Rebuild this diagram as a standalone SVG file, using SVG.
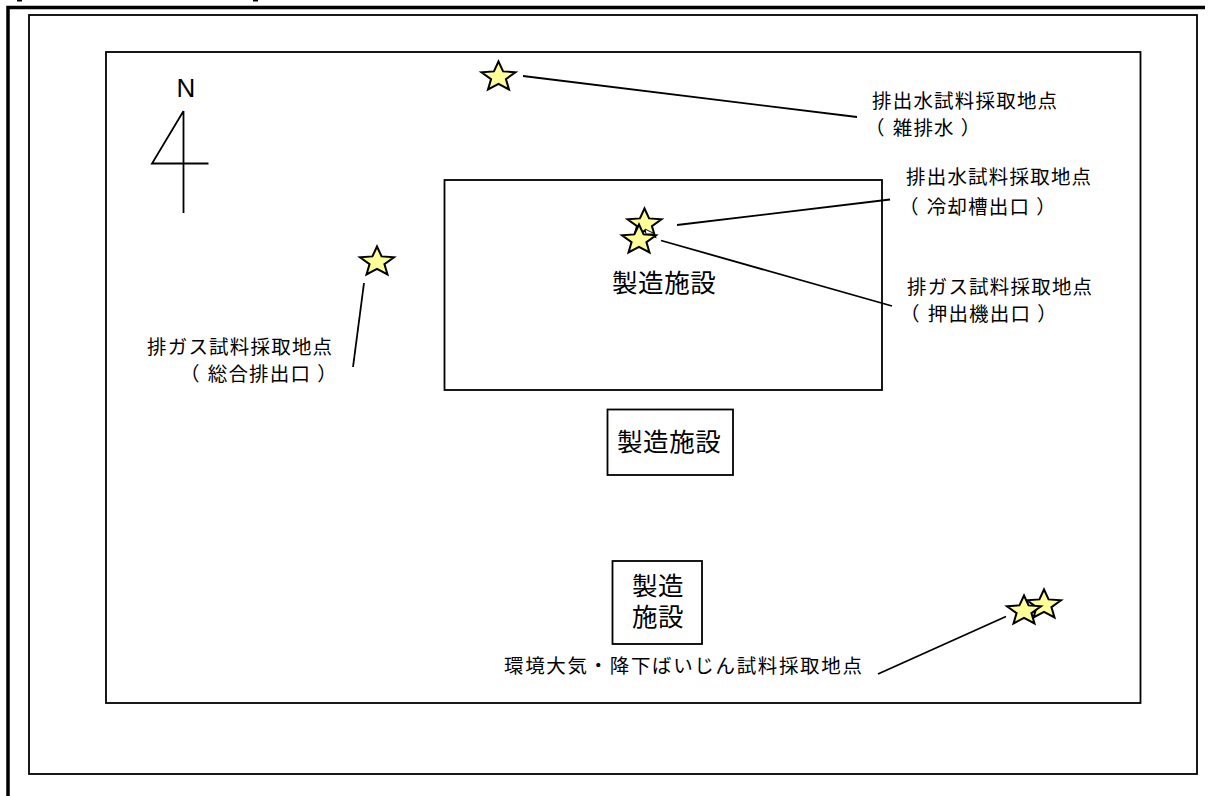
<svg xmlns="http://www.w3.org/2000/svg" width="1214" height="796" viewBox="0 0 1214 796">
<style>
.frame{fill:none;stroke:#000;stroke-width:1.800}
.thick{fill:none;stroke:#000;stroke-width:3.500}
.line{fill:none;stroke:#000;stroke-width:1.800}
.star{fill:#ffff99;stroke:#000;stroke-width:2;stroke-linejoin:miter}
text{font-family:"Noto Sans CJK JP","Noto Sans",sans-serif;fill:#000}
.s{font-size:19.500px;letter-spacing:1.200px}
.w{font-size:19.500px;letter-spacing:1.650px}
.b{font-size:25.500px;letter-spacing:.6px}
.n{font-family:"Liberation Sans",sans-serif;font-size:26px}
</style>
<defs>
<polygon id="star" class="star" points="0,-15.500 4.580,-5.600 17,-4.800 7.420,2.100 10.500,12.500 0,6.900 -10.500,12.500 -7.420,2.100 -17,-4.800 -4.580,-5.600"/>
</defs>
<rect width="1214" height="796" fill="#fff"/>
<g id="page-edge">
<path class="thick" d="M8 796V7.500H1205"/>
<rect x="17" y="0" width="5" height="1.500"/>
<rect x="253" y="0" width="5" height="1.500"/>
</g>
<g id="outer-frame"><rect class="frame" x="29" y="15" width="1168" height="759"/></g>
<g id="site"><rect class="frame" x="106" y="52" width="1034.500" height="651"/></g>
<g id="north">
<text class="n" x="186" y="97" text-anchor="middle">N</text>
<path class="line" d="M183.500 111V213M183.500 111L152 163.500H208.500"/>
</g>
<g id="building-main">
<rect class="frame" x="444.500" y="180" width="437.500" height="210"/>
<text class="b" x="612" y="292">製造施設</text>
</g>
<g id="building-2">
<rect class="frame" x="607.500" y="409.500" width="125.500" height="65.500"/>
<text class="b" x="617" y="451">製造施設</text>
</g>
<g id="building-3">
<rect class="frame" x="612.500" y="561" width="89.500" height="83"/>
<text class="b"><tspan x="632" y="595">製造</tspan><tspan x="632" y="626">施設</tspan></text>
</g>
<g id="connectors">
<path class="line" d="M523 76L857 117"/>
<path class="line" d="M677 225L890 199.500"/>
<path class="line" d="M661 240.500L892 306"/>
<path class="line" d="M364 283L353 367"/>
<path class="line" d="M1006 616.500L878 674"/>
</g>
<g id="point-wastewater">
<use href="#star" x="498.500" y="77"/>
<text class="s" x="872" y="108">排出水試料採取地点</text>
<text class="s" x="865" y="135">（<tspan dx="7">雑排水</tspan><tspan dx="6">）</tspan></text>
</g>
<g id="point-cooling">
<use href="#star" x="644.500" y="224"/>
<text class="s" x="906" y="184">排出水試料採取地点</text>
<text class="s" x="899" y="214">（<tspan dx="7">冷却槽出口</tspan><tspan dx="6">）</tspan></text>
</g>
<g id="point-extruder">
<use href="#star" x="639" y="240"/>
<polygon points="645,229 655,234 646,234" fill="#fff" stroke="#000" stroke-width="1"/>
<text class="s" x="907" y="294">排ガス試料採取地点</text>
<text class="s" x="900" y="321">（<tspan dx="7">押出機出口</tspan><tspan dx="6">）</tspan></text>
</g>
<g id="point-exhaust">
<use href="#star" x="377" y="262"/>
<text class="s" x="147" y="354">排ガス試料採取地点</text>
<text class="s" x="180" y="381">（<tspan dx="7">総合排出口</tspan><tspan dx="6">）</tspan></text>
</g>
<g id="point-ambient">
<use href="#star" x="1044" y="605"/>
<use href="#star" x="1024" y="611"/>
<text class="w" x="504" y="673">環境大気・降下ばいじん試料採取地点</text>
</g>
</svg>
